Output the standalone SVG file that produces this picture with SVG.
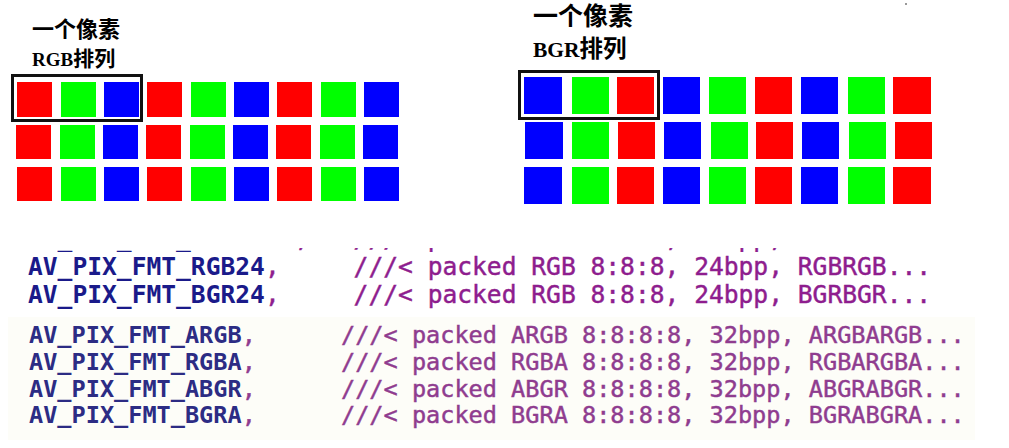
<svg xmlns="http://www.w3.org/2000/svg" width="1009" height="448" viewBox="0 0 1009 448">
<defs>
<style>
.r{fill:#ff0000}
.g{fill:#00ff00}
.b{fill:#0000ff}
.box{fill:none;stroke:#111;stroke-width:3}
.title{font-family:"Liberation Serif","Noto Sans CJK SC",serif;font-weight:bold;fill:#000}
.code1{font-family:"DejaVu Sans Mono",monospace;font-size:24.6px}
.code2{font-family:"DejaVu Sans Mono",monospace;font-size:23.55px}
.id1{fill:#1a1a8a;font-weight:bold}
.cm1{fill:#8e1d8e;stroke:#8e1d8e;stroke-width:0.45}
.id2{fill:#2c2c84;font-weight:bold}
.cm2{fill:#8f3c8f;stroke:#8f3c8f;stroke-width:0.45}
</style>
<clipPath id="clipTop"><rect x="0" y="248" width="940" height="4"/></clipPath>
</defs>
<rect width="1009" height="448" fill="#ffffff"/>
<rect x="8" y="317" width="967" height="123" fill="#fdfdf8"/>
<rect x="905" y="3" width="2" height="2" fill="#999"/>

<g id="rgb-title">
<text class="title" x="32" y="37" font-size="22">一个像素</text>
<text class="title" x="32" y="66" font-size="21"><tspan font-size="19">RGB</tspan>排列</text>
</g>

<g id="rgb-grid">
<rect class="r" x="17" y="82" width="35" height="35"/><rect class="g" x="61" y="82" width="35" height="35"/><rect class="b" x="104" y="82" width="35" height="35"/>
<rect class="r" x="147" y="82" width="35" height="35"/><rect class="g" x="191" y="82" width="35" height="35"/><rect class="b" x="234" y="82" width="35" height="35"/>
<rect class="r" x="277" y="82" width="35" height="35"/><rect class="g" x="321" y="82" width="35" height="35"/><rect class="b" x="364" y="82" width="35" height="35"/>
<rect class="r" x="16" y="125" width="35" height="34"/><rect class="g" x="60" y="125" width="35" height="34"/><rect class="b" x="103" y="125" width="35" height="34"/>
<rect class="r" x="146" y="125" width="35" height="34"/><rect class="g" x="190" y="125" width="35" height="34"/><rect class="b" x="233" y="125" width="35" height="34"/>
<rect class="r" x="276" y="125" width="35" height="34"/><rect class="g" x="320" y="125" width="35" height="34"/><rect class="b" x="363" y="125" width="35" height="34"/>
<rect class="r" x="17" y="167" width="35" height="34"/><rect class="g" x="61" y="167" width="35" height="34"/><rect class="b" x="104" y="167" width="35" height="34"/>
<rect class="r" x="147" y="167" width="35" height="34"/><rect class="g" x="191" y="167" width="35" height="34"/><rect class="b" x="234" y="167" width="35" height="34"/>
<rect class="r" x="277" y="167" width="35" height="34"/><rect class="g" x="321" y="167" width="35" height="34"/><rect class="b" x="364" y="167" width="35" height="34"/>
<rect class="box" x="12.5" y="75.5" width="129" height="45"/>
</g>

<g id="bgr-title">
<text class="title" x="533" y="25" font-size="25">一个像素</text>
<text class="title" x="533" y="57" font-size="23.5"><tspan font-size="21.5">BGR</tspan>排列</text>
</g>

<g id="bgr-grid">
<rect class="b" x="524" y="77" width="38" height="37"/><rect class="g" x="572" y="77" width="37" height="37"/><rect class="r" x="617" y="77" width="37" height="37"/>
<rect class="b" x="663" y="77" width="37" height="37"/><rect class="g" x="709" y="77" width="37" height="37"/><rect class="r" x="755" y="77" width="37" height="37"/>
<rect class="b" x="801" y="77" width="37" height="37"/><rect class="g" x="848" y="77" width="37" height="37"/><rect class="r" x="893" y="77" width="38" height="37"/>
<rect class="b" x="525" y="122" width="38" height="37"/><rect class="g" x="572" y="122" width="37" height="37"/><rect class="r" x="618" y="122" width="37" height="37"/>
<rect class="b" x="664" y="122" width="37" height="37"/><rect class="g" x="711" y="122" width="37" height="37"/><rect class="r" x="756" y="122" width="37" height="37"/>
<rect class="b" x="802" y="122" width="37" height="37"/><rect class="g" x="849" y="122" width="37" height="37"/><rect class="r" x="895" y="122" width="37" height="37"/>
<rect class="b" x="524" y="167" width="38" height="37"/><rect class="g" x="572" y="167" width="37" height="37"/><rect class="r" x="617" y="167" width="37" height="37"/>
<rect class="b" x="663" y="167" width="37" height="37"/><rect class="g" x="709" y="167" width="37" height="37"/><rect class="r" x="755" y="167" width="37" height="37"/>
<rect class="b" x="801" y="167" width="37" height="37"/><rect class="g" x="848" y="167" width="37" height="37"/><rect class="r" x="893" y="167" width="38" height="37"/>
<rect class="box" x="519.5" y="71.5" width="139" height="47"/>
</g>

<g id="code-24bpp" class="code1">
<g clip-path="url(#clipTop)">
<text x="28" y="247"><tspan class="id1">AV_PIX_FMT_YUYV422</tspan><tspan class="cm1">,</tspan></text>
<text x="353.6" y="247" class="cm1">///&lt; packed YUV 4:2:2, 16bpp, Y0 Cb Y1 Cr</text>
</g>
<text x="28" y="275"><tspan class="id1">AV_PIX_FMT_RGB24</tspan><tspan class="cm1">,</tspan></text>
<text x="353.6" y="275" class="cm1">///&lt; packed RGB 8:8:8, 24bpp, RGBRGB...</text>
<text x="28" y="303"><tspan class="id1">AV_PIX_FMT_BGR24</tspan><tspan class="cm1">,</tspan></text>
<text x="353.6" y="303" class="cm1">///&lt; packed RGB 8:8:8, 24bpp, BGRBGR...</text>
</g>

<g id="code-32bpp" class="code2">
<text x="29" y="342.5"><tspan class="id2">AV_PIX_FMT_ARGB</tspan><tspan class="cm2">,</tspan></text>
<text x="341" y="342.5" class="cm2">///&lt; packed ARGB 8:8:8:8, 32bpp, ARGBARGB...</text>
<text x="29" y="369.5"><tspan class="id2">AV_PIX_FMT_RGBA</tspan><tspan class="cm2">,</tspan></text>
<text x="341" y="369.5" class="cm2">///&lt; packed RGBA 8:8:8:8, 32bpp, RGBARGBA...</text>
<text x="29" y="396.5"><tspan class="id2">AV_PIX_FMT_ABGR</tspan><tspan class="cm2">,</tspan></text>
<text x="341" y="396.5" class="cm2">///&lt; packed ABGR 8:8:8:8, 32bpp, ABGRABGR...</text>
<text x="29" y="423"><tspan class="id2">AV_PIX_FMT_BGRA</tspan><tspan class="cm2">,</tspan></text>
<text x="341" y="423" class="cm2">///&lt; packed BGRA 8:8:8:8, 32bpp, BGRABGRA...</text>
</g>
</svg>
